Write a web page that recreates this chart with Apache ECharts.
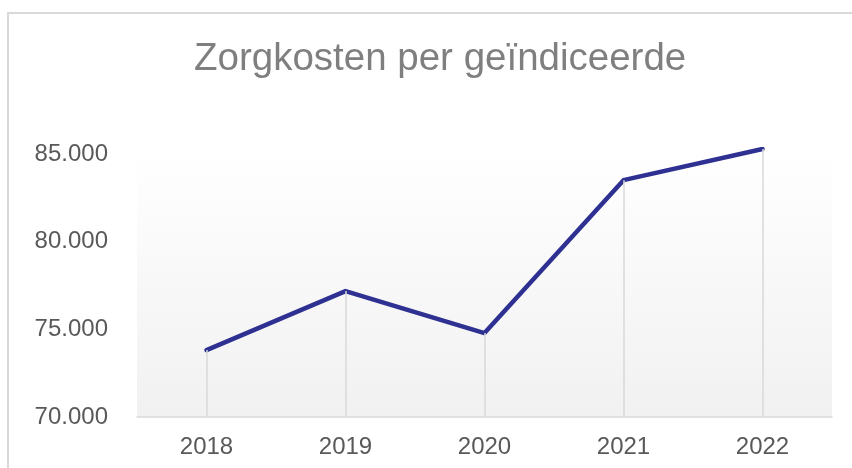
<!DOCTYPE html>
<html lang="nl">
  <head>
    <meta charset="UTF-8" />
    <title>Zorgkosten per geïndiceerde</title>
    <script src="https://cdn.jsdelivr.net/npm/echarts@6/dist/echarts.min.js"></script>
    <style>
      body {
        margin: 0;
        padding: 0;
        background: #ffffff;
      }
      #frame {
        position: absolute;
        left: 7px;
        top: 12px;
        width: 900px;
        height: 500px;
        border-left: 2px solid #d9d9d9;
        border-top: 2px solid #d9d9d9;
      }
      #chart {
        position: absolute;
        left: 0;
        top: 0;
        width: 852px;
        height: 468px;
      }
    </style>
  </head>
  <body>
    <div id="frame"></div>
    <div id="chart"></div>

    <script>
      // data
      var years = ['2018', '2019', '2020', '2021', '2022'];
      var kosten = [73820, 77190, 74790, 83520, 85300];
      var yMin = 70000;
      var yMax = 85300;
      var yStep = 5000;

      // 85000 -> "85.000"
      function nlFormat(v) {
        return String(v).replace(/\B(?=(\d{3})+(?!\d))/g, '.');
      }

      var chart = echarts.init(document.getElementById('chart'));

      var option = {
        animation: false,
        title: {
          text: 'Zorgkosten per geïndiceerde',
          left: 189,
          top: 35,
          textStyle: {
            color: '#7f7f7f',
            fontFamily: 'Liberation Sans',
            fontSize: 38.5,
            fontWeight: 'normal'
          }
        },
        grid: {
          left: 137,
          right: 20,
          top: 149,
          bottom: 51,
          show: true,
          borderWidth: 0,
          backgroundColor: new echarts.graphic.LinearGradient(0, 0, 0, 1, [
            { offset: 0, color: '#ffffff' },
            { offset: 1, color: '#f1f1f1' }
          ])
        },
        xAxis: {
          type: 'category',
          data: years,
          boundaryGap: true,
          axisLine: { lineStyle: { color: '#d9d9d9', width: 1.5 } },
          axisTick: { show: false },
          axisLabel: {
            color: '#595959',
            fontFamily: 'Liberation Sans',
            fontSize: 24,
            margin: 18
          }
        },
        yAxis: {
          type: 'value',
          min: yMin,
          max: yMax,
          interval: yStep,
          axisLine: { show: false },
          axisTick: { show: false },
          splitLine: { show: false },
          axisLabel: {
            color: '#595959',
            fontFamily: 'Liberation Sans',
            fontSize: 24,
            margin: 29,
            showMaxLabel: false,
            formatter: function (v) {
              return v % yStep === 0 ? nlFormat(v) : '';
            }
          }
        },
        series: [
          {
            // loodlijnen
            type: 'line',
            data: [],
            z: 1,
            silent: true,
            markLine: {
              silent: true,
              symbol: 'none',
              label: { show: false },
              lineStyle: { color: '#d9d9d9', width: 1.5, type: 'solid' },
              data: kosten.map(function (v, i) {
                return [{ coord: [i, yMin] }, { coord: [i, v] }];
              })
            }
          },
          {
            type: 'line',
            data: kosten,
            z: 3,
            symbol: 'none',
            lineStyle: { color: '#2e3192', width: 4.5, cap: 'round', join: 'round' }
          }
        ]
      };

      chart.setOption(option);
    </script>
  </body>
</html>
